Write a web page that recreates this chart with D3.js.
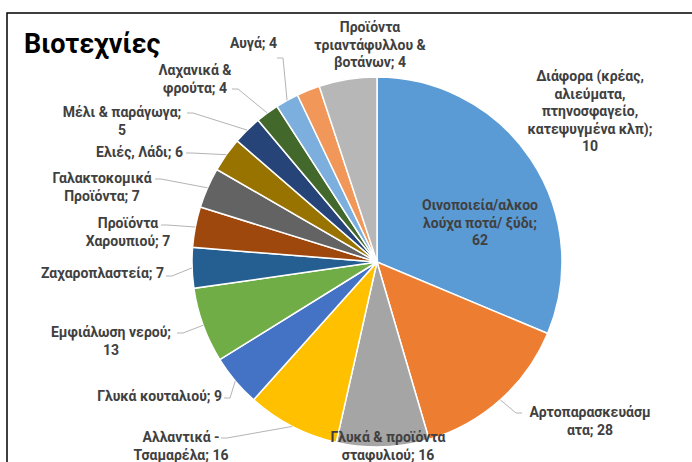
<!DOCTYPE html>
<html>
<head>
<meta charset="utf-8">
<script src="https://cdn.jsdelivr.net/npm/d3@7"></script>
<style>
  body { margin: 0; background: #fff; }
  svg { display: block; }
  .lbl { font-family: Roboto, "Noto Sans", sans-serif; font-weight: bold; font-size: 14px; fill: #404040; }
</style>
</head>
<body>
<div id="chart"></div>
<script>
// categories, clockwise from 12 o'clock ("\n" = where the label wraps)
const categories = [
  "Οινοποιεία/αλκοο\nλούχα ποτά/ ξύδι",
  "Αρτοπαρασκευάσμ\nατα",
  "Γλυκά & προϊόντα\nσταφυλιού",
  "Αλλαντικά -\nΤσαμαρέλα",
  "Γλυκά κουταλιού",
  "Εμφιάλωση νερού",
  "Ζαχαροπλαστεία",
  "Προϊόντα\nΧαρουπιού",
  "Γαλακτοκομικά\nΠροϊόντα",
  "Ελιές, Λάδι",
  "Μέλι & παράγωγα",
  "Λαχανικά &\nφρούτα",
  "Αυγά",
  "Προϊόντα\nτριαντάφυλλου &\nβοτάνων",
  "Διάφορα (κρέας,\nαλιεύματα,\nπτηνοσφαγείο,\nκατεψυγμένα κλπ)"
];
const values = [62, 28, 16, 16, 9, 13, 7, 7, 7, 6, 5, 4, 4, 4, 10];

const colors = ["#5b9bd5", "#ed7d31", "#a5a5a5", "#ffc000", "#4472c4", "#70ad47",
  "#255e91", "#9e480e", "#636363", "#997300", "#264478", "#43682b",
  "#7cafdd", "#f1975a", "#b7b7b7"];

// label placement: first-line centre, anchor, value on its own line, leader start
const labelLayout = [
  { x: 480, y: 205, anchor: "middle", br: true,  lead: null },
  { x: 590, y: 412, anchor: "middle", br: false, lead: [522, 413] },
  { x: 388, y: 437, anchor: "middle", br: false, lead: null },
  { x: 181, y: 437, anchor: "middle", br: false, lead: [221, 438] },
  { x: 222, y: 396, anchor: "end",    br: false, lead: [224, 398] },
  { x: 111, y: 332, anchor: "middle", br: true,  lead: [177, 333] },
  { x: 164, y: 273, anchor: "end",    br: false, lead: [166, 276] },
  { x: 128, y: 223, anchor: "middle", br: false, lead: [161, 225] },
  { x: 102, y: 178, anchor: "middle", br: false, lead: [155, 179] },
  { x: 183, y: 152, anchor: "end",    br: false, lead: [186, 153] },
  { x: 122, y: 112, anchor: "middle", br: true,  lead: [187, 113] },
  { x: 195, y: 70,  anchor: "middle", br: false, lead: [232, 89] },
  { x: 277, y: 43,  anchor: "end",    br: false, lead: [277, 58] },
  { x: 370, y: 27,  anchor: "middle", br: false, lead: null },
  { x: 590, y: 76,  anchor: "middle", br: true,  lead: null }
];

const width = 692, height = 462;
const cx = 377, cy = 262, radius = 185;
const lineH = 17.5;

const svg = d3.select("#chart").append("svg")
  .attr("width", width)
  .attr("height", height);

// frame (right and bottom edges are cut off in the original)
svg.append("rect")
  .attr("x", 7).attr("y", 13)
  .attr("width", width + 20).attr("height", height + 20)
  .attr("fill", "none")
  .attr("stroke", "#000")
  .attr("stroke-width", 1.5);

const pie = d3.pie().sort(null).value(d => d);
const arcs = pie(values);

const arc = d3.arc().innerRadius(0).outerRadius(radius);
const edge = d3.arc().innerRadius(radius).outerRadius(radius);

const g = svg.append("g").attr("transform", `translate(${cx},${cy})`);

g.selectAll("path.slice")
  .data(arcs)
  .join("path")
  .attr("class", "slice")
  .attr("d", arc)
  .attr("fill", (d, i) => colors[i])
  .attr("stroke", "#fff")
  .attr("stroke-width", 1.5);

// leader lines: short horizontal step, then straight to the slice edge
const leaders = arcs.map((d, i) => ({ d, l: labelLayout[i] })).filter(o => o.l.lead);
svg.selectAll("polyline.lead")
  .data(leaders)
  .join("polyline")
  .attr("class", "lead")
  .attr("fill", "none")
  .attr("stroke", "#b4b4b4")
  .attr("stroke-width", 1)
  .attr("points", o => {
    const [ex, ey] = edge.centroid(o.d);
    const px = cx + ex, py = cy + ey;
    const [sx, sy] = o.l.lead;
    const step = px > sx ? 6 : -6;
    return [[sx, sy], [sx + step, sy], [px, py]].map(p => p.join(",")).join(" ");
  });

// data labels
const labels = svg.selectAll("text.lbl")
  .data(arcs)
  .join("text")
  .attr("class", "lbl")
  .attr("text-anchor", (d, i) => labelLayout[i].anchor)
  .attr("dominant-baseline", "central");

labels.each(function (d, i) {
  const l = labelLayout[i];
  const parts = categories[i].split("\n");
  if (l.br) {
    parts[parts.length - 1] += ";";
    parts.push(String(values[i]));
  } else {
    parts[parts.length - 1] += "; " + values[i];
  }
  d3.select(this).selectAll("tspan")
    .data(parts)
    .join("tspan")
    .attr("x", l.x)
    .attr("y", (t, k) => l.y + k * lineH)
    .text(t => t);
});

svg.append("text")
  .attr("x", 24)
  .attr("y", 53)
  .attr("font-family", "Roboto, 'Noto Sans', sans-serif")
  .attr("font-weight", "bold")
  .attr("font-size", 27)
  .attr("fill", "#000")
  .text("Βιοτεχνίες");
</script>
</body>
</html>
